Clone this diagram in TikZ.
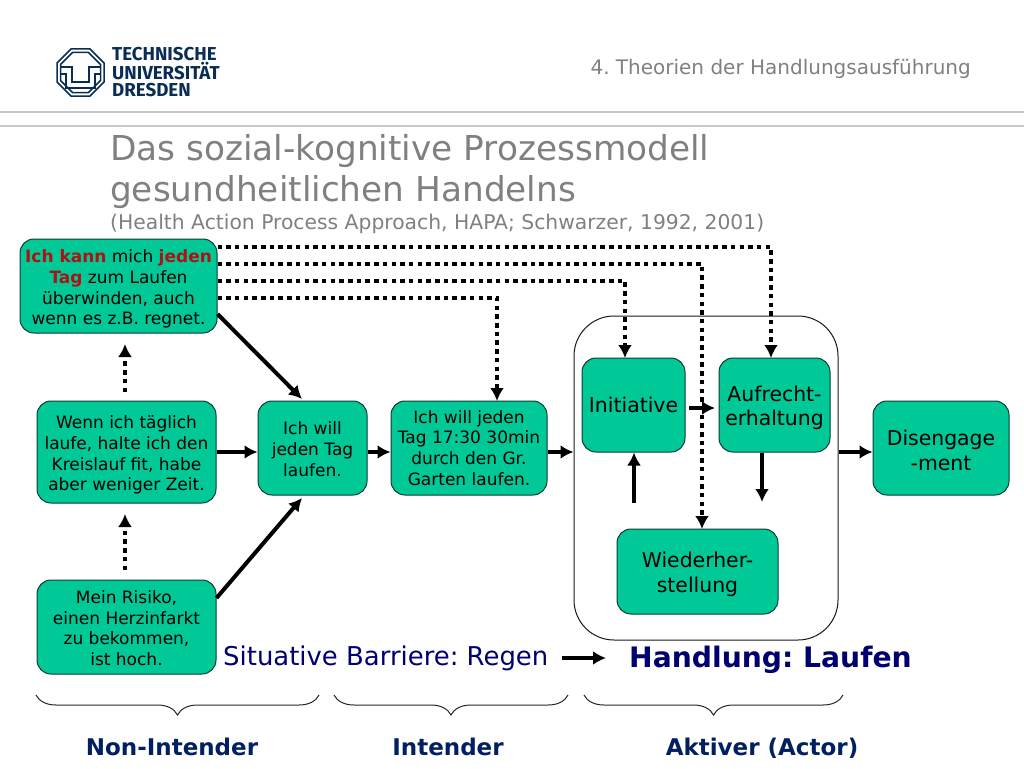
\documentclass[tikz,border=0pt]{standalone}
\usepackage{fontspec}
\setmainfont{DejaVu Sans}
\newfontfamily\logofont{Fira Sans}
\usetikzlibrary{arrows.meta,decorations.pathreplacing}
\definecolor{boxgreen}{RGB}{0,200,150}
\definecolor{boxedge}{RGB}{10,60,50}
\definecolor{headgray}{RGB}{128,128,128}
\definecolor{rulegray}{RGB}{200,200,200}
\definecolor{logoblue}{RGB}{10,45,85}
\definecolor{barblue}{RGB}{0,0,110}
\definecolor{stageblue}{RGB}{0,32,96}
\definecolor{accentred}{RGB}{170,20,20}
\tikzset{
    stagebox/.style={draw=boxedge, fill=boxgreen, line width=1pt, rounded corners=14pt,
        minimum width=#1, align=center, inner sep=0pt, text=black},
    small/.style={font=\fontsize{17}{20.7}\selectfont},
    large/.style={font=\fontsize{20.4}{24.7}\selectfont},
    solidarrow/.style={line width=4pt, -{Latex[length=13pt,width=14pt]}},
    dotarrow/.style={line width=4.8pt, dash pattern=on 4.5pt off 4.2pt, -{Latex[length=13pt,width=14pt]}},
    stagebrace/.style={decorate, decoration={brace, amplitude=20pt}, line width=1pt, black!85},
    stagelabel/.style={text=stageblue, anchor=base, inner sep=0pt, font=\fontsize{23}{27}\selectfont\bfseries},
    logoline/.style={draw=logoblue, line width=1.5pt}
}
\newcommand{\red}[1]{\textcolor{accentred}{\textbf{#1}}}
\newcommand{\lift}[1]{\rule{0pt}{\dimexpr13pt+#1\relax}}
\begin{document}
\frenchspacing
\begin{tikzpicture}[x=1pt, y=-1pt]
    \useasboundingbox (0,0) rectangle (1024,768);

    % header
    \draw[rulegray, line width=1.5pt] (0,112) -- (1024,112);
    \draw[rulegray, line width=1.5pt] (0,126) -- (1024,126);
    \node[text=headgray, anchor=east, inner sep=0pt, font=\fontsize{20}{24}\selectfont] (section) at (971,69) {4. Theorien der Handlungsausführung};

    % logo
    \draw[logoline] (71,49) -- (90,49) -- (104,63) -- (104,82) -- (90,96) -- (71,96) -- (57,82) -- (57,63) -- cycle;
    \draw[logoline] (72.5,52.5) -- (88.5,52.5) -- (100.5,64.5) -- (100.5,80.5) -- (88.5,92.5) -- (72.5,92.5) -- (60.5,80.5) -- (60.5,64.5) -- cycle;
    \draw[logoline] (60.5,67) -- (72,67) -- (72,82) -- (89,82) -- (89,67) -- (100.5,67);
    \draw[logoline] (60.5,74) -- (66,74) -- (66,88) -- (95,88) -- (95,74) -- (100.5,74);
    \node[text=logoblue, anchor=north west, align=left, inner sep=0pt, font=\logofont\fontsize{18.7}{17}\selectfont\bfseries] (logotext) at (112,47.5) {TECHNISCHE\\UNIVERSITÄT\\DRESDEN};

    % title
    \node[text=headgray, anchor=north west, align=left, inner sep=0pt, font=\fontsize{34.3}{41}\selectfont] (title) at (110,134) {Das sozial-kognitive Prozessmodell\\gesundheitlichen Handelns};
    \node[text=headgray, anchor=west, inner sep=0pt, font=\fontsize{20.3}{24}\selectfont] (subtitle) at (110,223.5) {(Health Action Process Approach, HAPA; Schwarzer, 1992, 2001)};

    % outer frame
    \node[draw=black!90, line width=1pt, rounded corners=40pt, minimum width=264pt, minimum height=324pt, inner sep=0pt] (actor) at (706,478) {};

    % stage boxes
    \node[stagebox=197pt, small, minimum height=94pt] (can) at (118.5,286) {\lift{6pt}\red{Ich kann} mich \red{jeden}\\\red{Tag} zum Laufen\\überwinden, auch\\wenn es z.B. regnet.};
    \node[stagebox=179pt, small, minimum height=102pt] (fit) at (126.5,452) {\lift{6pt}Wenn ich täglich\\laufe, halte ich den\\Kreislauf fit, habe\\aber weniger Zeit.};
    \node[stagebox=179pt, small, minimum height=94pt] (risk) at (126.5,627) {\lift{2pt}Mein Risiko,\\einen Herzinfarkt\\zu bekommen,\\ist hoch.};
    \node[stagebox=109pt, small, minimum height=94pt] (want) at (312.5,448) {\lift{2pt}Ich will\\jeden Tag\\laufen.};
    \node[stagebox=156pt, small, minimum height=94pt] (plan) at (469,448) {Ich will jeden\\Tag 17:30 30min\\durch den Gr.\\Garten laufen.};
    \node[stagebox=103pt, large, minimum height=94pt] (init) at (633.5,405) {Initiative};
    \node[stagebox=111pt, large, minimum height=94pt] (keep) at (774.5,405) {\lift{8pt}Aufrecht-\\erhaltung};
    \node[stagebox=161pt, large, minimum height=85pt] (recover) at (697.5,571.5) {\lift{8pt}Wiederher-\\stellung};
    \node[stagebox=136pt, large, minimum height=94pt] (stop) at (941,448) {\lift{7pt}Disengage\\-ment};

    % free ends
    \coordinate (fitup) at (125,392);
    \coordinate (canlow) at (125,344);
    \coordinate (riskup) at (125,570);
    \coordinate (fitlow) at (125,514);
    \coordinate (initfoot) at (634,503);
    \coordinate (keepfoot) at (762,502);
    \coordinate (bararrow) at (562,658);
    \coordinate (bartip) at (606,658);

    % dotted links
    \draw[dotarrow] (can.east |- 0,247) -- (771,247) -- (771,358);
    \draw[dotarrow] (can.east |- 0,264) -- (702,264) -- (702,529);
    \draw[dotarrow] (can.east |- 0,281) -- (625,281) -- (625,358);
    \draw[dotarrow] (can.east |- 0,298) -- (497,298) -- (497,401);
    \draw[dotarrow] (fitup) -- (canlow);
    \draw[dotarrow] (riskup) -- (fitlow);

    % solid links
    \draw[solidarrow] (can.east |- 0,314) -- (302,399);
    \draw[solidarrow] (risk.east |- 0,598) -- (302,498);
    \draw[solidarrow] (fit.east) -- (fit.east -| want.west);
    \draw[solidarrow] (want.east |- 0,452) -- (plan.west |- 0,452);
    \draw[solidarrow] (plan.east |- 0,452) -- (actor.west |- 0,452);
    \draw[solidarrow] (actor.east |- 0,452) -- (stop.west |- 0,452);
    \draw[solidarrow] (689,408) -- (715,408);
    \draw[solidarrow] (initfoot) -- (init.south -| initfoot);
    \draw[solidarrow] (keep.south -| keepfoot) -- (keepfoot);
    \draw[solidarrow] (bararrow) -- (bartip);

    % barrier and action
    \node[text=barblue, anchor=west, inner sep=0pt, font=\fontsize{25.9}{30}\selectfont] (barrier) at (223,658) {Situative Barriere: Regen};
    \node[text=barblue, anchor=west, inner sep=0pt, font=\fontsize{28.2}{33}\selectfont\bfseries] (action) at (629,660) {Handlung: Laufen};

    % stages
    \coordinate (nonleft) at (36,695);
    \coordinate (nonright) at (319,695);
    \coordinate (intleft) at (334,695);
    \coordinate (intright) at (568,695);
    \coordinate (actleft) at (584,695);
    \coordinate (actright) at (843,695);
    \draw[stagebrace] (nonright) -- (nonleft);
    \draw[stagebrace] (intright) -- (intleft);
    \draw[stagebrace] (actright) -- (actleft);
    \node[stagelabel] (nonintender) at (172,755) {Non-Intender};
    \node[stagelabel] (intender) at (448,755) {Intender};
    \node[stagelabel] (aktiver) at (762,755) {Aktiver (Actor)};
\end{tikzpicture}
\end{document}
